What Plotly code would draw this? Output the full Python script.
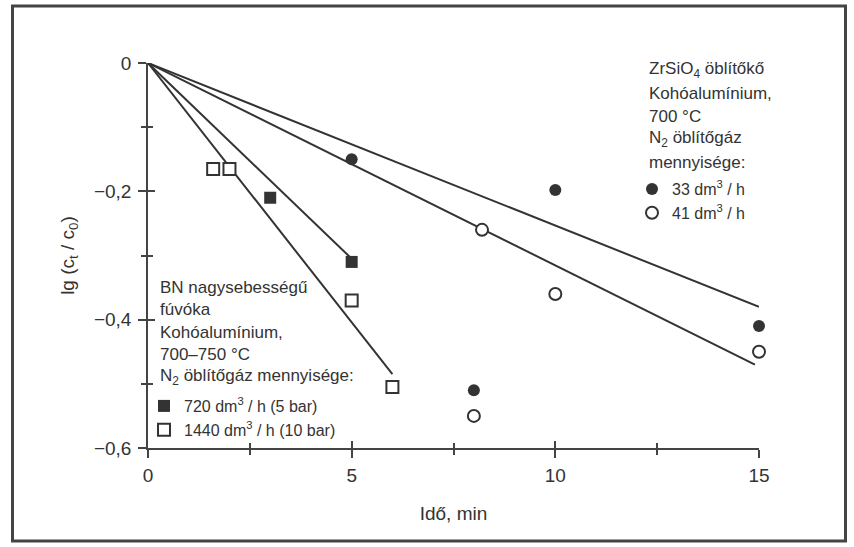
import plotly.graph_objects as go

# ---------------- data ----------------
# ZrSiO4 rinsing stone, N2 flow 33 dm3/h (filled circles)
t_33 = [5.0, 8.0, 10.0, 15.0]
lg_33 = [-0.15, -0.51, -0.198, -0.41]
# ZrSiO4 rinsing stone, N2 flow 41 dm3/h (open circles)
t_41 = [8.2, 8.0, 10.0, 15.0]
lg_41 = [-0.26, -0.55, -0.36, -0.45]
# BN nozzle, 720 dm3/h (filled squares)
t_720 = [3.0, 5.0]
lg_720 = [-0.21, -0.31]
# BN nozzle, 1440 dm3/h (open squares)
t_1440 = [1.6, 2.0, 5.0, 6.0]
lg_1440 = [-0.165, -0.165, -0.37, -0.505]

# fitted lines (start / end)
fit_33_t = [0, 15.0]
fit_33_lg = [0, -0.38]
fit_41_t = [0, 14.9]
fit_41_lg = [0, -0.47]
fit_720_t = [0, 5.0]
fit_720_lg = [0, -0.305]
fit_1440_t = [0, 6.0]
fit_1440_lg = [0, -0.485]

x_tickvals = [0, 5, 10, 15]
x_ticktext = ["0", "5", "10", "15"]
x_minor = [2.5, 7.5, 12.5]
y_tickvals = [0, -0.2, -0.4, -0.6]
y_ticktext = ["0", "\u22120,2", "\u22120,4", "\u22120,6"]
y_minor = [-0.1, -0.3, -0.5]

right_text = ["ZrSiO<sub>4</sub> öblítőkő", "Kohóalumínium,", "700 °C",
              "N<sub>2</sub> öblítőgáz", "mennyisége:"]
left_text = ["BN nagysebességű", "fúvóka", "Kohóalumínium,", "700–750 °C",
             "N<sub>2</sub> öblítőgáz mennyisége:"]

# ---------------- style ----------------
INK = "#333333"
AX = "#444444"
FONT = "Liberation Sans, Arial, sans-serif"
FS = 17

fig = go.Figure()

for fx, fy in [(fit_33_t, fit_33_lg), (fit_41_t, fit_41_lg),
               (fit_720_t, fit_720_lg), (fit_1440_t, fit_1440_lg)]:
    fig.add_trace(go.Scatter(x=fx, y=fy, mode="lines",
                             line=dict(color=INK, width=2),
                             showlegend=False, hoverinfo="skip"))

fig.add_trace(go.Scatter(x=t_33, y=lg_33, mode="markers", name="33 dm<sup>3</sup> / h",
                         marker=dict(symbol="circle", size=12, color=INK,
                                     line=dict(width=0)),
                         cliponaxis=False, legend="legend"))
fig.add_trace(go.Scatter(x=t_41, y=lg_41, mode="markers", name="41 dm<sup>3</sup> / h",
                         marker=dict(symbol="circle", size=12, color="white",
                                     line=dict(width=2, color=INK)),
                         cliponaxis=False, legend="legend"))
fig.add_trace(go.Scatter(x=t_720, y=lg_720, mode="markers",
                         name="720 dm<sup>3</sup> / h (5 bar)",
                         marker=dict(symbol="square", size=12, color=INK,
                                     line=dict(width=0)),
                         cliponaxis=False, legend="legend2"))
fig.add_trace(go.Scatter(x=t_1440, y=lg_1440, mode="markers",
                         name="1440 dm<sup>3</sup> / h (10 bar)",
                         marker=dict(symbol="square", size=12, color="white",
                                     line=dict(width=2, color=INK)),
                         cliponaxis=False, legend="legend2"))
# invisible trace to activate the inner-tick overlay axes
fig.add_trace(go.Scatter(x=t_33, y=lg_33, xaxis="x2", yaxis="y2", mode="markers",
                         marker=dict(opacity=0), showlegend=False, hoverinfo="skip"))

L, R, T, B = 148, 95, 63, 99
W, H = 854, 547
pw, ph = W - L - R, H - T - B


def px(xp):
    return (xp - L) / pw


def py(yp):
    return (H - B - yp) / ph


annotations = []
for i, s in enumerate(right_text):
    annotations.append(dict(text=s, xref="paper", yref="paper", x=px(647),
                            y=py(70 + 23 * i), xanchor="left", yanchor="middle",
                            showarrow=False, align="left",
                            font=dict(family=FONT, size=FS, color=INK)))
for i, s in enumerate(left_text):
    annotations.append(dict(text=s, xref="paper", yref="paper", x=px(158),
                            y=py(287 + 22.5 * i), xanchor="left", yanchor="middle",
                            showarrow=False, align="left",
                            font=dict(family=FONT, size=FS, color=INK)))

axis_common = dict(showgrid=False, zeroline=False)

fig.update_layout(
    width=W, height=H, autosize=False,
    margin=dict(l=L, r=R, t=T, b=B),
    paper_bgcolor="white", plot_bgcolor="white",
    font=dict(family=FONT, size=FS, color=INK),
    xaxis=dict(range=[0, 15], showline=True, linecolor=AX, linewidth=1.5,
               tickmode="array", tickvals=x_tickvals, ticktext=x_ticktext,
               ticks="outside", ticklen=8, tickwidth=1.5, tickcolor=AX,
               minor=dict(tickmode="array", tickvals=x_minor, ticks="outside",
                          ticklen=5, tickwidth=1.5, tickcolor=AX),
               tickfont=dict(size=19), ticklabelstandoff=1,
               title=dict(text="Idő, min", font=dict(size=19), standoff=22),
               **axis_common),
    yaxis=dict(range=[-0.6, 0], showline=True, linecolor=AX, linewidth=1.5,
               tickmode="array", tickvals=y_tickvals, ticktext=y_ticktext,
               ticks="outside", ticklen=8, tickwidth=1.5, tickcolor=AX,
               minor=dict(tickmode="array", tickvals=y_minor, ticks="outside",
                          ticklen=5, tickwidth=1.5, tickcolor=AX),
               tickfont=dict(size=19), ticklabelstandoff=3,
               title=dict(text="lg (c<sub>t</sub> / c<sub>0</sub>)",
                          font=dict(size=19), standoff=14),
               **axis_common),
    xaxis2=dict(range=[0, 15], overlaying="x", anchor="y", side="bottom",
                showline=False, showticklabels=False,
                tickmode="array", tickvals=x_tickvals,
                ticks="inside", ticklen=7, tickwidth=1.5, tickcolor=AX,
                minor=dict(tickmode="array", tickvals=x_minor, ticks="inside",
                           ticklen=5, tickwidth=1.5, tickcolor=AX),
                **axis_common),
    yaxis2=dict(range=[-0.6, 0], overlaying="y", anchor="x", side="left",
                showline=False, showticklabels=False,
                tickmode="array", tickvals=y_tickvals,
                ticks="inside", ticklen=7, tickwidth=1.5, tickcolor=AX,
                minor=dict(tickmode="array", tickvals=y_minor, ticks="inside",
                           ticklen=5, tickwidth=1.5, tickcolor=AX),
                **axis_common),
    legend=dict(x=px(632), y=py(172), xanchor="left", yanchor="top",
                bgcolor="rgba(0,0,0,0)", borderwidth=0,
                font=dict(family=FONT, size=16, color=INK), tracegroupgap=0),
    legend2=dict(x=px(144), y=py(389), xanchor="left", yanchor="top",
                 bgcolor="rgba(0,0,0,0)", borderwidth=0,
                 font=dict(family=FONT, size=16, color=INK), tracegroupgap=0),
    annotations=annotations,
    shapes=[dict(type="rect", xref="paper", yref="paper",
                 x0=px(12.5), x1=px(845.5), y0=py(541), y1=py(6),
                 line=dict(color=AX, width=3), layer="below")],
    showlegend=True,
)

fig.write_html("out.html")
